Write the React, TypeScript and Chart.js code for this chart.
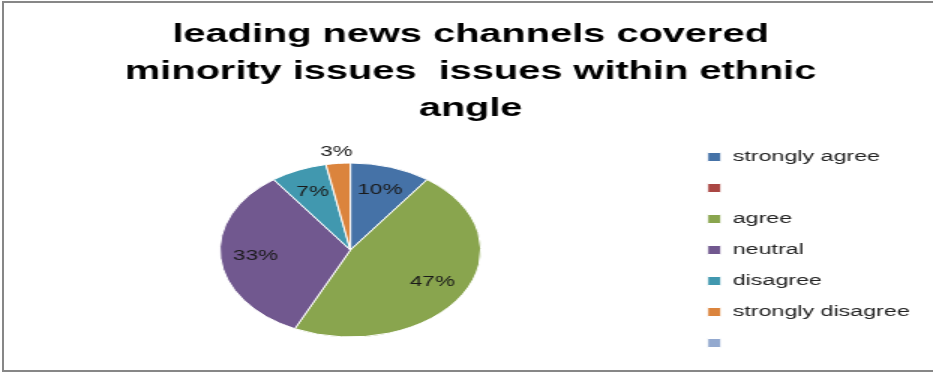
import React, { useEffect, useRef } from "react";
import { Chart, registerables } from "chart.js";

Chart.register(...registerables);

const titleLines = ["leading news channels covered", "minority issues  issues within ethnic", "angle"];
const categories = ["strongly agree", "", "agree", "neutral", "disagree", "strongly disagree", ""];
const percentValues = [10, 0, 47, 33, 7, 3, 0];
const sliceColors = ["#4572A7", "#AA4643", "#89A54E", "#71588F", "#4198AF", "#DB843D", "#93A9CF"];

const STRETCH = 1.5;
const CW = 622;
const CH = 372;

const labelPlugin = {
  id: "pieLabels",
  afterDatasetsDraw(chart: any) {
    const ctx = chart.ctx;
    const meta = chart.getDatasetMeta(0);
    const data = chart.data.datasets[0].data as number[];
    const total = data.reduce((a, b) => a + b, 0);
    ctx.save();
    ctx.font = "15px 'Liberation Sans', Arial, sans-serif";
    ctx.fillStyle = "#1a1a1a";
    ctx.textAlign = "center";
    ctx.textBaseline = "middle";
    meta.data.forEach((arc: any, i: number) => {
      const v = data[i];
      if (!v) return;
      const p = arc.getProps(["x", "y", "startAngle", "endAngle", "outerRadius"], true);
      const mid = (p.startAngle + p.endAngle) / 2;
      const pct = (v / total) * 100;
      const r = pct < 5 ? p.outerRadius + 12 : p.outerRadius * 0.73;
      ctx.fillText(Math.round(pct) + "%", p.x + Math.cos(mid) * r, p.y + Math.sin(mid) * r);
    });
    ctx.restore();
  },
};

export default function App() {
  const ref = useRef<HTMLCanvasElement>(null);
  useEffect(() => {
    if (!ref.current) return;
    const chart = new Chart(ref.current, {
      type: "pie",
      data: {
        labels: categories,
        datasets: [
          {
            data: percentValues,
            backgroundColor: sliceColors,
            borderColor: "#ffffff",
            borderWidth: 1,
            radius: 87,
          } as any,
        ],
      },
      options: {
        responsive: false,
        animation: false,
        devicePixelRatio: 1,
        layout: { padding: { top: 0, bottom: 2, left: 11, right: 5.5 } },
        plugins: {
          title: {
            display: true,
            text: titleLines,
            color: "#000",
            font: { family: "'Liberation Sans', Arial, sans-serif", size: 26.5, weight: "bold", lineHeight: 37 / 26.5 },
            padding: { top: 16, bottom: 3 },
          },
          legend: {
            display: true,
            position: "right",
            align: "center",
            fullSize: false,
            labels: {
              color: "#222",
              font: { family: "'Liberation Sans', Arial, sans-serif", size: 15.5 },
              boxWidth: 9,
              boxHeight: 9,
              padding: 15.5,
            },
          },
          tooltip: { enabled: false },
        },
      },
      plugins: [labelPlugin],
    });
    return () => chart.destroy();
  }, []);

  return (
    <div style={{ position: "fixed", left: 0, top: 0, width: 933, height: 372, overflow: "hidden", background: "#fff" }}>
      <div
        style={{
          position: "absolute",
          left: 2,
          top: 1,
          width: 980,
          height: 371,
          boxSizing: "border-box",
          borderLeft: "2px solid #878787",
          borderTop: "2px solid #878787",
          borderBottom: "2px solid #878787",
        }}
      />
      <div style={{ position: "absolute", left: 0, top: 0, width: CW, height: CH, transform: `scaleX(${STRETCH})`, transformOrigin: "0 0" }}>
        <canvas ref={ref} width={CW} height={CH} style={{ width: CW, height: CH }} />
      </div>
    </div>
  );
}
